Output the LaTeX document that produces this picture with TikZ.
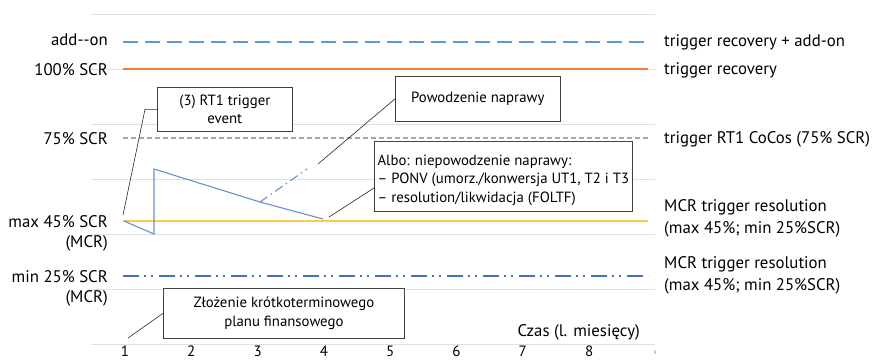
\documentclass[tikz,border=0pt]{standalone}
\usepackage{fontspec}
\setmainfont{PT Sans}
\usetikzlibrary{positioning}
\definecolor{jasnyniebieski}{HTML}{5B9BD5}
\definecolor{niebieski}{HTML}{4472C4}
\definecolor{pomaranczowy}{HTML}{ED7D31}
\definecolor{szary}{HTML}{A5A5A5}
\definecolor{zolty}{HTML}{FFC94D}

\begin{document}
\begin{tikzpicture}[
  x=1pt, y=-1pt,
  font=\fontsize{16.8}{21}\selectfont,
  etyk/.style={inner sep=0pt, anchor=base east},
  opis/.style={inner sep=0pt, align=left, anchor=base west, font=\fontsize{16.8}{22}\selectfont},
  ramka/.style={rectangle, draw=black!75, line width=0.7pt, fill=white, inner sep=6pt, anchor=north west, font=\fontsize{14.8}{18.5}\selectfont},
  siatka/.style={draw=black!12, line width=0.8pt},
  addon/.style={draw=jasnyniebieski, line width=2.6pt, dash pattern=on 15pt off 7pt},
  recov/.style={draw=pomaranczowy, line width=2.2pt},
  cocos/.style={draw=szary, line width=1.8pt, dash pattern=on 5pt off 3pt},
  mcrmax/.style={draw=zolty, line width=2.2pt},
  mcrmin/.style={draw=niebieski, line width=2.2pt, dash pattern=on 16pt off 5pt on 2pt off 5pt on 2pt off 6pt},
  krzywa/.style={draw=niebieski!80!white, line width=1.1pt},
  wodnik/.style={draw=black!85, line width=0.6pt}
]
\useasboundingbox (0,0) rectangle (874,360);

\foreach \y in {14,69,...,344}
  \draw[siatka] (91,\y) -- (655,\y);

\node[etyk] (lAdd) at (108,45.5) {add{-}{-}on};
\node[etyk] (lRec) at (108,75) {100\% SCR};
\node[etyk] (lCoc) at (108,144) {75\% SCR};
\node[etyk] (lMax) at (108,227) {max 45\% SCR};
\node[inner sep=0pt, anchor=east] (lMaxB) at (108,243.5) {(MCR)};
\node[etyk] (lMin) at (108,282) {min 25\% SCR};
\node[inner sep=0pt, anchor=east] (lMinB) at (108,298.5) {(MCR)};

\node[opis] (rAdd) at (664,46.5) {trigger recovery + add-on};
\node[opis] (rRec) at (664,74) {trigger recovery};
\node[opis] (rCoc) at (664,143.5) {trigger RT1 CoCos (75\% SCR)};
\node[opis] (rMax) at (664,233) {MCR trigger resolution\\(max 45\%; min 25\%SCR)};
\node[opis] (rMin) at (664,290) {MCR trigger resolution\\(max 45\%; min 25\%SCR)};

\draw[addon] (123,42) -- (648,42);
\draw[recov] (123,69) -- (648,69);
\draw[cocos] (123,138) -- (648,138);
\draw[mcrmax] (123,221) -- (648,221);
\draw[mcrmin] (123,276) -- (648,276);

\coordinate (s0) at (124,221);
\coordinate (s1) at (154,234);
\coordinate (s2) at (154,169);
\coordinate (s3) at (260,202);
\coordinate (s4) at (323,219);
\coordinate (s5) at (307,169);
\draw[krzywa] (s0) -- (s1) -- (s2) -- (s3) -- (s4);
\draw[krzywa, dash pattern=on 9pt off 4pt on 1.5pt off 4pt] (s3) -- (s5);

\node[ramka, minimum width=135pt, minimum height=44pt, align=center] (event) at (157,87) {(3) RT1 trigger\\event};
\node[ramka, minimum width=165pt, minimum height=45pt, align=center] (sukces) at (395,76) {Powodzenie naprawy};
\node[ramka, minimum width=258pt, minimum height=67pt, inner xsep=3pt, align=left] (porazka) at (374,141) {\rule{0pt}{18pt}Albo: niepowodzenie naprawy:\\– PONV (umorz./konwersja UT1, T2 i T3\\– resolution/likwidacja (FOLTF)};
\node[ramka, minimum width=241pt, minimum height=50pt, align=center] (plan) at (163,288) {Złożenie krótkoterminowego\\planu finansowego};

\coordinate (k1) at (123,215);
\coordinate (k2) at (318,164);
\coordinate (k3) at (329,217);
\coordinate (k4) at (128,338);
\draw[wodnik] (event.west) -- ++(-12,0) -- (k1);
\draw[wodnik] (sukces.west) -- (k2);
\draw[wodnik] ([yshift=-11.5pt]porazka.west) -- (k3);
\draw[wodnik] (plan.west) -- (k4);

\node[inner sep=0pt, anchor=base east] (czas) at (640,336) {Czas (l. miesięcy)};
\foreach \i in {1,...,8}
  \node[inner sep=0pt, anchor=base, font=\fontsize{15}{18}\selectfont] (t\i) at ({125+66.3*(\i-1)},356) {\i};
\node[inner sep=0pt, font=\tiny, text=black!50] (t9) at (655,353) {9};
\end{tikzpicture}
\end{document}
